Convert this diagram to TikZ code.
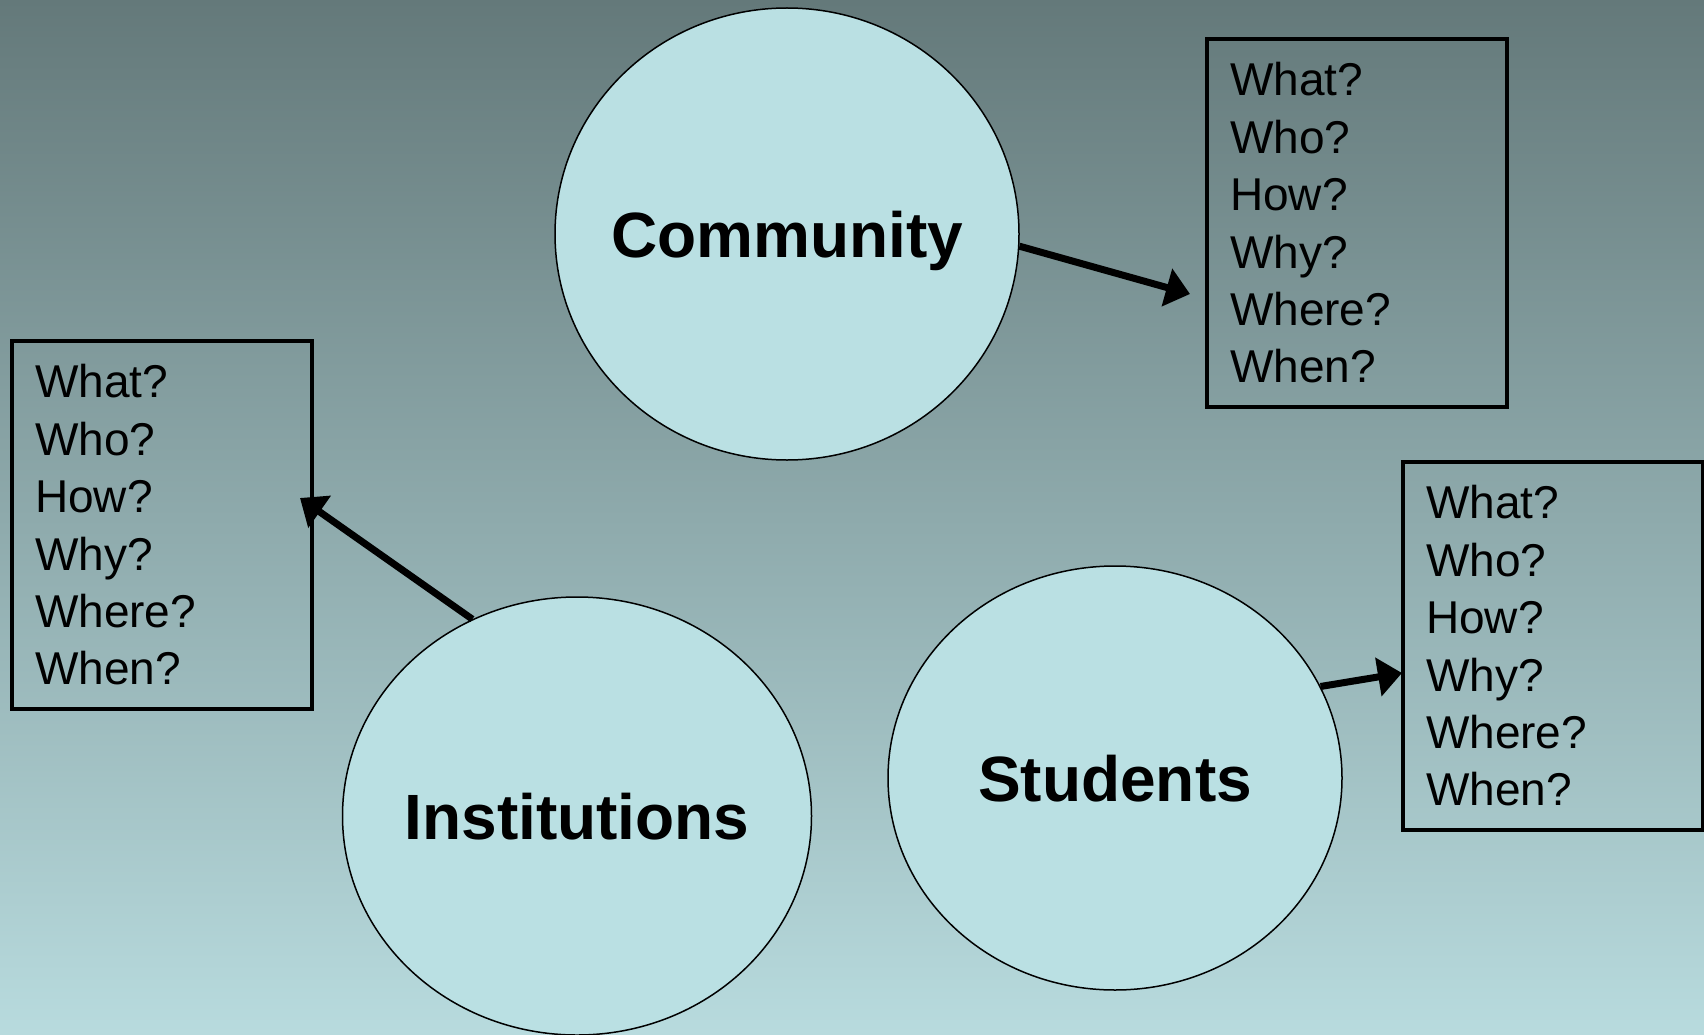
\documentclass[tikz,border=0pt]{standalone}
\usepackage{fontspec}
\setmainfont{Liberation Sans}
\usetikzlibrary{arrows.meta,shapes.geometric}
\definecolor{bgtop}{RGB}{100,121,122}
\definecolor{bgbot}{RGB}{184,219,222}
\definecolor{bubblefill}{RGB}{186,224,227}
\begin{document}
\begin{tikzpicture}[x=1pt,y=-1pt,
  bubble/.style={ellipse, draw=black, line width=1.5pt, fill=bubblefill, inner sep=0pt},
  qbox/.style={rectangle, draw=black, line width=4.5pt, minimum height=368pt, text width=254pt,
    inner xsep=23pt, inner ysep=0pt, align=left, font=\fontsize{46}{57.4}\selectfont},
  bubbletext/.style={font=\bfseries\fontsize{64}{70}\selectfont, inner sep=0pt, anchor=base},
  conn/.style={line width=7pt, -{Triangle[length=24pt,width=38pt]}}]
\useasboundingbox (0,0) rectangle (1704,1035);
\shade[top color=bgtop, bottom color=bgbot] (0,0) rectangle (1704,1035);

% bubbles
\node[bubble, minimum width=464pt, minimum height=452pt] (comm) at (787,234) {};
\node[bubbletext] (commtxt) at ([yshift=-23pt]comm.center) {Community};
\node[bubble, minimum width=469pt, minimum height=438pt] (inst) at (577,816) {};
\node[bubbletext] (insttxt) at ([yshift=-23pt]inst.center) {Institutions};
\node[bubble, minimum width=454pt, minimum height=424pt] (stud) at (1115,778) {};
\node[bubbletext] (studtxt) at ([yshift=-23pt]stud.center) {Students};

% question boxes
\node[qbox] (commbox) at (1357,223) {What?\\Who?\\How?\\Why?\\Where?\\When?};
\node[qbox] (instbox) at (162,525) {What?\\Who?\\How?\\Why?\\Where?\\When?};
\node[qbox] (studbox) at (1553,646) {What?\\Who?\\How?\\Why?\\Where?\\When?};

% connectors
\coordinate (commtip) at (1190,294);
\coordinate (insttip) at (300,498);
\coordinate (studtip) at (1402,673);
\draw[conn] (comm.-3) -- (commtip);
\draw[conn] (inst.118) -- (insttip);
\draw[conn] (stud.24) -- (studtip);
\end{tikzpicture}
\end{document}
